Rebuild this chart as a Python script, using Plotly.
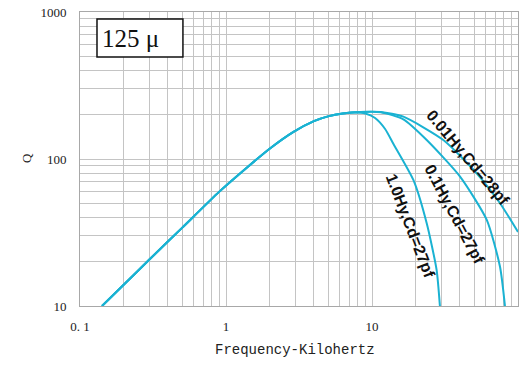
import plotly.graph_objects as go

# ---- data ----
rise_f = [0.1415, 0.2, 0.3, 0.5, 0.9, 1.4, 2.0, 2.9, 4.0, 5.0, 6.3]
rise_q = [10, 14, 20.8, 34, 60, 88, 118, 153, 181, 195, 204]

hy10_f = [7.6, 9.0, 10.5, 12.3, 14.0, 19.2, 23.7, 27.7, 29.2]
hy10_q = [207, 204, 190, 160, 127, 72.0, 36.5, 17.6, 9.9]

hy01_f = [8.3, 11.5, 16.4, 23.7, 40.1, 61.1, 75.3, 81.5]
hy01_q = [209, 208, 186, 134.6, 75.9, 38.5, 18.5, 9.9]

hy001_f = [8.3, 11.5, 16.4, 30.8, 52.1, 75.3, 100]
hy001_q = [209, 209, 194, 134.6, 79.9, 50.0, 31.9]

labels = ["0.01Hy,Cd=28pf", "0.1Hy,Cd=27pf", "1.0Hy,Cd=27pf"]
x_ticks = [0.1, 1, 10, 100]
x_ticktext = ["0. 1", "1", "10", "100"]
y_ticks = [10, 100, 1000]
y_ticktext = ["10", "100", "1000"]

minor_x = [m * d for d in (0.1, 1, 10) for m in range(2, 10)]
minor_y = [m * d for d in (10, 100) for m in range(2, 10)]

color = "#1ab2d2"
grid = "#c4c4c4"

fig = go.Figure()
for fx, qx in [(hy001_f, hy001_q), (hy01_f, hy01_q), (hy10_f, hy10_q)]:
    fig.add_trace(go.Scatter(
        x=rise_f + fx, y=rise_q + qx, mode="lines",
        line=dict(color=color, width=2, shape="spline", smoothing=0.6),
        showlegend=False, hoverinfo="skip"))

fig.update_xaxes(
    type="log", range=[-1, 2],
    tickmode="array", tickvals=x_ticks, ticktext=x_ticktext,
    showgrid=True, gridcolor=grid, gridwidth=1,
    minor=dict(tickmode="array", tickvals=minor_x, showgrid=True,
               gridcolor=grid, gridwidth=1, ticks=""),
    showline=True, linecolor="#a8a8a8", linewidth=1, mirror=True,
    ticks="", ticklabelstandoff=8,
    tickfont=dict(family="Liberation Serif", size=13, color="#222"),
    zeroline=False)
fig.update_yaxes(
    type="log", range=[1, 3],
    tickmode="array", tickvals=y_ticks, ticktext=y_ticktext,
    showgrid=True, gridcolor=grid, gridwidth=1,
    minor=dict(tickmode="array", tickvals=minor_y, showgrid=True,
               gridcolor=grid, gridwidth=1, ticks=""),
    showline=True, linecolor="#a8a8a8", linewidth=1, mirror=True,
    ticks="", ticklabelstandoff=10,
    tickfont=dict(family="Liberation Serif", size=13, color="#222"),
    zeroline=False)

# inset box "125 μ"
fig.add_shape(type="rect", xref="paper", yref="paper",
              x0=0.0388, x1=0.235, y0=0.847, y1=0.976,
              line=dict(color="#111", width=1.5), fillcolor="white", layer="above")
fig.add_annotation(xref="paper", yref="paper", x=(130 - 80) / 438, y=(306 - 38) / 294,
                   xanchor="center", yanchor="middle",
                   text="125 μ", showarrow=False,
                   font=dict(family="Liberation Serif", size=25, color="#111"))

# curve labels
lab_pos = [(468, 157, 50), (455, 214, 62), (410, 226, 69)]
for txt, (px, py, ang) in zip(labels, lab_pos):
    fig.add_annotation(xref="paper", yref="paper",
                       x=(px - 80) / 438, y=(306 - py) / 294,
                       xanchor="center", yanchor="middle",
                       text="<b>" + txt + "</b>", showarrow=False, textangle=ang,
                       font=dict(family="Liberation Sans", size=16, color="#111"))

# axis titles
fig.add_annotation(xref="paper", yref="paper", x=(295 - 80) / 438, y=(306 - 350) / 294,
                   xanchor="center", yanchor="middle",
                   text="Frequency-Kilohertz", showarrow=False,
                   font=dict(family="Liberation Mono", size=14, color="#222"))
fig.add_annotation(xref="paper", yref="paper", x=(26 - 80) / 438, y=(306 - 158) / 294,
                   xanchor="center", yanchor="middle",
                   text="Q", showarrow=False, textangle=-90,
                   font=dict(family="Liberation Serif", size=13, color="#222"))

fig.update_layout(
    width=522, height=369, autosize=False,
    margin=dict(l=80, r=4, t=12, b=63),
    paper_bgcolor="white", plot_bgcolor="white")

fig.write_html("out.html", config={"displayModeBar": False},
               post_script="document.body.style.margin='0';")
